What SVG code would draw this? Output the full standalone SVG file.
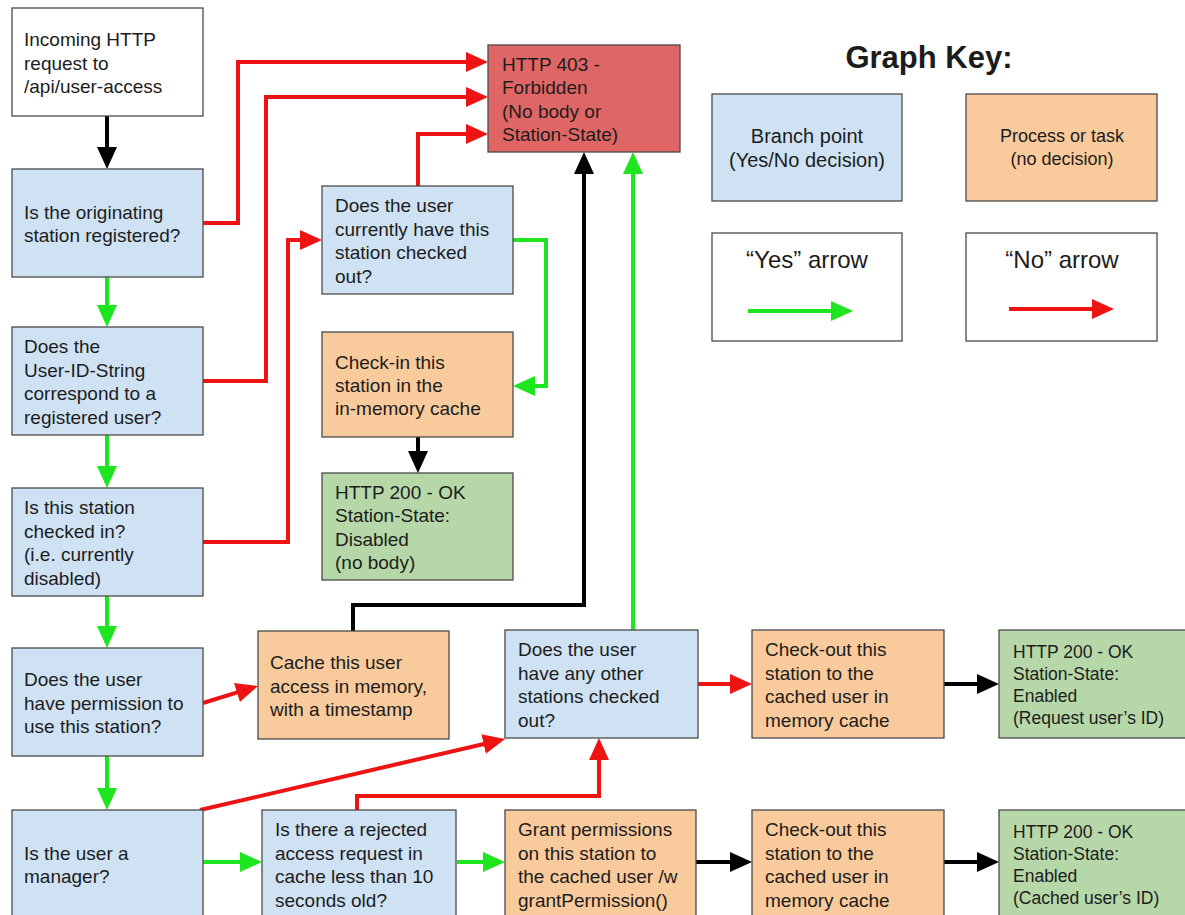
<svg xmlns="http://www.w3.org/2000/svg" width="1185" height="915" viewBox="0 0 1185 915">
<style>
  .box { stroke: #4a4a4a; stroke-width: 1.3; }
  .white { fill: #ffffff; }
  .blue { fill: #cfe2f3; }
  .orange { fill: #f9cb9c; }
  .green { fill: #b6d7a8; }
  .red { fill: #e06666; }
  text { font-family: "Liberation Sans", Arial, sans-serif; font-size: 19px; fill: #1c1c1c; }
  .small { font-size: 17.5px; }
  .keyt { font-size: 24px; }
  .title { font-size: 31px; font-weight: bold; }
  .c { fill: none; stroke-width: 4; stroke-linejoin: miter; }
  .cr { stroke: #ee1414; }
  .cg { stroke: #1ee61e; }
  .ck { stroke: #000000; }
</style>
<defs>
  <marker id="ar" viewBox="0 0 22 20" refX="8" refY="10" markerWidth="22" markerHeight="20" markerUnits="userSpaceOnUse" orient="auto">
    <path d="M0,0 L22,10 L0,20 z" fill="#ee1414"/>
  </marker>
  <marker id="ag" viewBox="0 0 22 20" refX="8" refY="10" markerWidth="22" markerHeight="20" markerUnits="userSpaceOnUse" orient="auto">
    <path d="M0,0 L22,10 L0,20 z" fill="#1ee61e"/>
  </marker>
  <marker id="ak" viewBox="0 0 22 20" refX="8" refY="10" markerWidth="22" markerHeight="20" markerUnits="userSpaceOnUse" orient="auto">
    <path d="M0,0 L22,10 L0,20 z" fill="#000000"/>
  </marker>
</defs>
<rect width="1185" height="915" fill="#ffffff"/>

<g id="connectors">
  <path class="c ck" d="M107,116 V155" marker-end="url(#ak)"/>
  <path class="c cg" d="M107,277 V313" marker-end="url(#ag)"/>
  <path class="c cg" d="M107,435 V474" marker-end="url(#ag)"/>
  <path class="c cg" d="M107,596 V634" marker-end="url(#ag)"/>
  <path class="c cg" d="M107,756 V796" marker-end="url(#ag)"/>
  <path class="c cr" d="M203,223 H238 V62 H474" marker-end="url(#ar)"/>
  <path class="c cr" d="M203,381 H266 V97 H474" marker-end="url(#ar)"/>
  <path class="c cr" d="M203,542 H288 V240 H308" marker-end="url(#ar)"/>
  <path class="c cr" d="M418,186 V134 H474" marker-end="url(#ar)"/>
  <path class="c cg" d="M513,240 H546 V386 H527" marker-end="url(#ag)"/>
  <path class="c ck" d="M418,437 V459" marker-end="url(#ak)"/>
  <path class="c ck" d="M353,631 V605 H584 V166" marker-end="url(#ak)"/>
  <path class="c cg" d="M633,630 V166" marker-end="url(#ag)"/>
  <path class="c cr" d="M203,703 L244.6,690.1" marker-end="url(#ar)"/>
  <path class="c cr" d="M200,810 L491.4,742.2" marker-end="url(#ar)"/>
  <path class="c cr" d="M357,810 V796 H599 V752" marker-end="url(#ar)"/>
  <path class="c cr" d="M698,684 H738" marker-end="url(#ar)"/>
  <path class="c ck" d="M944,684 H985" marker-end="url(#ak)"/>
  <path class="c cg" d="M203,862 H248" marker-end="url(#ag)"/>
  <path class="c cg" d="M457,862 H491" marker-end="url(#ag)"/>
  <path class="c ck" d="M696,862 H738" marker-end="url(#ak)"/>
  <path class="c ck" d="M944,862 H985" marker-end="url(#ak)"/>
</g>

<g id="n-incoming">
  <rect class="box white" x="12" y="8" width="191" height="108"/>
  <text x="24" y="46">Incoming HTTP</text>
  <text x="24" y="69.5">request to</text>
  <text x="24" y="93">/api/user-access</text>
</g>
<g id="n-registered">
  <rect class="box blue" x="12" y="169" width="191" height="108"/>
  <text x="24" y="219">Is the originating</text>
  <text x="24" y="242">station registered?</text>
</g>
<g id="n-userid">
  <rect class="box blue" x="12" y="327" width="191" height="108"/>
  <text x="24" y="353.4">Does the</text>
  <text x="24" y="376.8">User-ID-String</text>
  <text x="24" y="400.2">correspond to a</text>
  <text x="24" y="423.6">registered user?</text>
</g>
<g id="n-checkedin">
  <rect class="box blue" x="12" y="488" width="191" height="108"/>
  <text x="24" y="514.4">Is this station</text>
  <text x="24" y="537.8">checked in?</text>
  <text x="24" y="561.2">(i.e. currently</text>
  <text x="24" y="584.6">disabled)</text>
</g>
<g id="n-permission">
  <rect class="box blue" x="12" y="648" width="191" height="108"/>
  <text x="24" y="686.1">Does the user</text>
  <text x="24" y="709.5">have permission to</text>
  <text x="24" y="732.9">use this station?</text>
</g>
<g id="n-manager">
  <rect class="box blue" x="12" y="810" width="191" height="108"/>
  <text x="24" y="859.8">Is the user a</text>
  <text x="24" y="883.2">manager?</text>
</g>
<g id="n-403">
  <rect class="box red" x="488" y="45" width="192" height="107"/>
  <text x="502" y="70.9">HTTP 403 -</text>
  <text x="502" y="94.3">Forbidden</text>
  <text x="502" y="117.7">(No body or</text>
  <text x="502" y="141.1">Station-State)</text>
</g>
<g id="n-currently">
  <rect class="box blue" x="322" y="186" width="191" height="108"/>
  <text x="335" y="212.4">Does the user</text>
  <text x="335" y="235.8">currently have this</text>
  <text x="335" y="259.2">station checked</text>
  <text x="335" y="282.6">out?</text>
</g>
<g id="n-checkin">
  <rect class="box orange" x="322" y="332" width="191" height="105"/>
  <text x="335" y="368.6">Check-in this</text>
  <text x="335" y="392">station in the</text>
  <text x="335" y="415.4">in-memory cache</text>
</g>
<g id="n-disabled">
  <rect class="box green" x="322" y="473" width="191" height="107"/>
  <text x="335" y="498.9">HTTP 200 - OK</text>
  <text x="335" y="522.3">Station-State:</text>
  <text x="335" y="545.7">Disabled</text>
  <text x="335" y="569.1">(no body)</text>
</g>
<g id="n-cache">
  <rect class="box orange" x="258" y="631" width="191" height="108"/>
  <text x="270" y="669.1">Cache this user</text>
  <text x="270" y="692.5">access in memory,</text>
  <text x="270" y="715.9">with a timestamp</text>
</g>
<g id="n-other">
  <rect class="box blue" x="505" y="630" width="193" height="108"/>
  <text x="518" y="656.4">Does the user</text>
  <text x="518" y="679.8">have any other</text>
  <text x="518" y="703.2">stations checked</text>
  <text x="518" y="726.6">out?</text>
</g>
<g id="n-checkout1">
  <rect class="box orange" x="752" y="630" width="192" height="108"/>
  <text x="765" y="656.4">Check-out this</text>
  <text x="765" y="679.8">station to the</text>
  <text x="765" y="703.2">cached user in</text>
  <text x="765" y="726.6">memory cache</text>
</g>
<g id="n-enabled1">
  <rect class="box green" x="999" y="630" width="192" height="108"/>
  <text class="small" x="1013" y="658">HTTP 200 - OK</text>
  <text class="small" x="1013" y="680">Station-State:</text>
  <text class="small" x="1013" y="702">Enabled</text>
  <text class="small" x="1013" y="724">(Request user’s ID)</text>
</g>
<g id="n-rejected">
  <rect class="box blue" x="262" y="810" width="194" height="108"/>
  <text x="275" y="836.4">Is there a rejected</text>
  <text x="275" y="859.8">access request in</text>
  <text x="275" y="883.2">cache less than 10</text>
  <text x="275" y="906.6">seconds old?</text>
</g>
<g id="n-grant">
  <rect class="box orange" x="505" y="810" width="191" height="108"/>
  <text x="518" y="836.4">Grant permissions</text>
  <text x="518" y="859.8">on this station to</text>
  <text x="518" y="883.2">the cached user /w</text>
  <text x="518" y="906.6">grantPermission()</text>
</g>
<g id="n-checkout2">
  <rect class="box orange" x="752" y="810" width="192" height="108"/>
  <text x="765" y="836.4">Check-out this</text>
  <text x="765" y="859.8">station to the</text>
  <text x="765" y="883.2">cached user in</text>
  <text x="765" y="906.6">memory cache</text>
</g>
<g id="n-enabled2">
  <rect class="box green" x="999" y="810" width="192" height="108"/>
  <text class="small" x="1013" y="838">HTTP 200 - OK</text>
  <text class="small" x="1013" y="860">Station-State:</text>
  <text class="small" x="1013" y="882">Enabled</text>
  <text class="small" x="1013" y="904">(Cached user’s ID)</text>
</g>

<g id="key">
  <text class="title" x="929" y="68" text-anchor="middle">Graph Key:</text>
  <g id="key-branch">
    <rect class="box blue" x="712" y="94" width="190" height="107"/>
    <text x="807" y="143" text-anchor="middle" style="font-size:20px">Branch point</text>
    <text x="807" y="167" text-anchor="middle" style="font-size:20px">(Yes/No decision)</text>
  </g>
  <g id="key-process">
    <rect class="box orange" x="966" y="94" width="191" height="107"/>
    <text x="1062" y="142" text-anchor="middle" style="font-size:18px">Process or task</text>
    <text x="1062" y="165" text-anchor="middle" style="font-size:18px">(no decision)</text>
  </g>
  <g id="key-yes">
    <rect class="box white" x="712" y="233" width="190" height="108"/>
    <text class="keyt" x="807" y="268" text-anchor="middle">“Yes” arrow</text>
    <path class="c cg" d="M748,311 H839" marker-end="url(#ag)"/>
  </g>
  <g id="key-no">
    <rect class="box white" x="966" y="233" width="191" height="108"/>
    <text class="keyt" x="1062" y="268" text-anchor="middle">“No” arrow</text>
    <path class="c cr" d="M1009,309 H1100" marker-end="url(#ar)"/>
  </g>
</g>
</svg>
